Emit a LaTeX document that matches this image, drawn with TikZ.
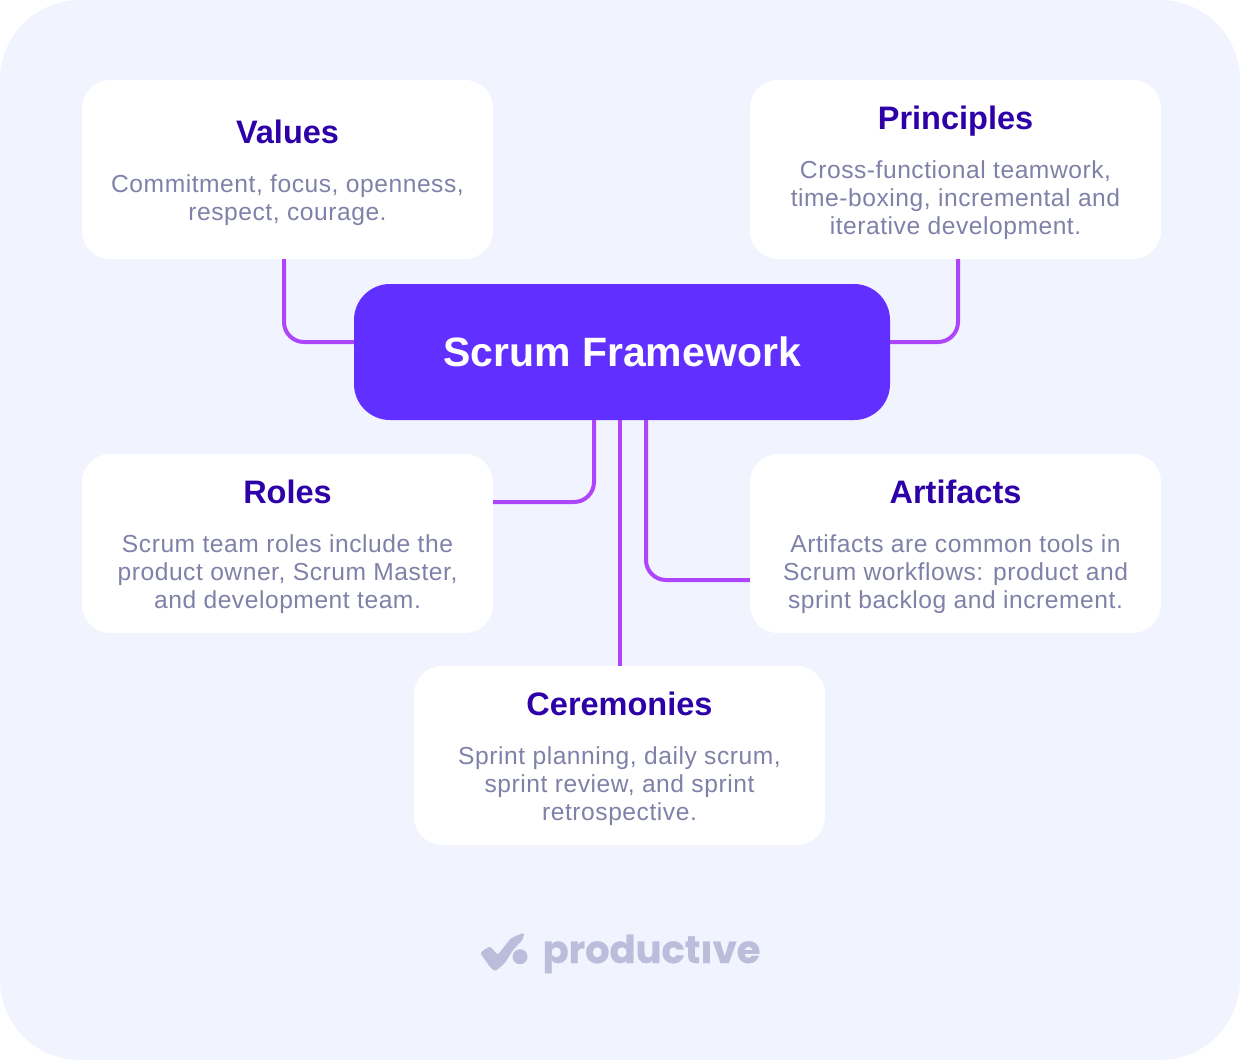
\documentclass[tikz,border=0pt]{standalone}
\usepackage{fontspec}
\setmainfont{Liberation Sans}
\newfontfamily\bodyfont[LetterSpace=2.2]{Liberation Sans}
\newfontfamily\logofont[FakeBold=0.6]{Poppins}
\definecolor{pagebg}{HTML}{F1F3FE}
\definecolor{mainfill}{HTML}{612FFF}
\definecolor{conncol}{HTML}{AF45FB}
\definecolor{titlecol}{HTML}{2E00A8}
\definecolor{bodycol}{HTML}{8081A8}
\definecolor{logocol}{HTML}{BBBEDA}
\tikzset{
  card/.style={fill=white,rounded corners=28pt,minimum width=411pt,minimum height=179pt,inner sep=0pt,draw=none},
  hub/.style={fill=mainfill,rounded corners=36pt,minimum width=536pt,minimum height=136pt,inner sep=0pt,draw=none},
  cardtitle/.style={text=titlecol,font=\fontsize{32.5}{36}\selectfont\bfseries,inner sep=0pt,anchor=base},
  cardbody/.style={text=bodycol,font=\fontsize{24.6}{28}\selectfont\bodyfont,align=center,inner sep=0pt,anchor=center},
  conn/.style={draw=conncol,line width=4pt,rounded corners=20pt},
}
\begin{document}
\begin{tikzpicture}[x=1pt,y=-1pt]
\useasboundingbox (0,0) rectangle (1240,1060);
\path[fill=pagebg,rounded corners=80pt] (0,0) rectangle (1240,1060);
% corner points of the connectors
\coordinate (vc) at (284,342);
\coordinate (pc) at (958,342);
\coordinate (rc) at (594,502);
\coordinate (ac) at (646,580);
\node[hub] (hub) at (622,352) {};
\node[card] (values) at (287.5,169.5) {};
\node[card] (principles) at (955.5,169.5) {};
\node[card] (roles) at (287.5,543.5) {};
\node[card] (artifacts) at (955.5,543.5) {};
\node[card] (ceremonies) at (619.5,755.5) {};
\draw[conn] (values.south -| vc) -- (vc) -- (hub.west |- vc);
\draw[conn] (principles.south -| pc) -- (pc) -- (hub.east |- pc);
\draw[conn] (hub.south -| rc) -- (rc) -- (roles.east |- rc);
\draw[conn] (hub.south -| ac) -- (ac) -- (artifacts.west |- ac);
\draw[conn] (ceremonies.north) -- (hub.south -| ceremonies.north);
\node[text=white,font=\fontsize{41}{48}\selectfont\bfseries,inner sep=0pt] (hubtext) at (622,352) {Scrum Framework};
\node[cardtitle] (t1) at (287.5,143) {Values};
\node[cardbody] (b1) at (287.5,200) {Commitment, focus, openness,\\respect, courage.};
\node[cardtitle] (t2) at (955.5,129) {Principles};
\node[cardbody] (b2) at (955.5,200) {Cross-functional teamwork,\\time-boxing, incremental and\\iterative development.};
\node[cardtitle] (t3) at (287.5,503) {Roles};
\node[cardbody] (b3) at (287.5,574) {Scrum team roles include the\\product owner, Scrum Master,\\and development team.};
\node[cardtitle] (t4) at (955.5,503) {Artifacts};
\node[cardbody] (b4) at (955.5,574) {Artifacts are common tools in\\Scrum workflows: product and\\sprint backlog and increment.};
\node[cardtitle] (t5) at (619.5,715) {Ceremonies};
\node[cardbody] (b5) at (619.5,786) {Sprint planning, daily scrum,\\sprint review, and sprint\\retrospective.};
% logo
\path[fill=logocol,rounded corners=2.5pt] (480,952.7) -- (490,946) -- (497.7,955) -- (511,938) -- (524.5,932.5) -- (522.5,940) -- (513,950) -- (505,963) -- (495,971.5) -- (490,967) -- cycle;
\path[fill=logocol] (520,956.7) circle (7.5);
\node[text=logocol,font=\fontsize{38.4}{44}\selectfont\logofont\bfseries,inner sep=0pt,anchor=base] (logo) at (651.5,963) {productıve};
\end{tikzpicture}
\end{document}
